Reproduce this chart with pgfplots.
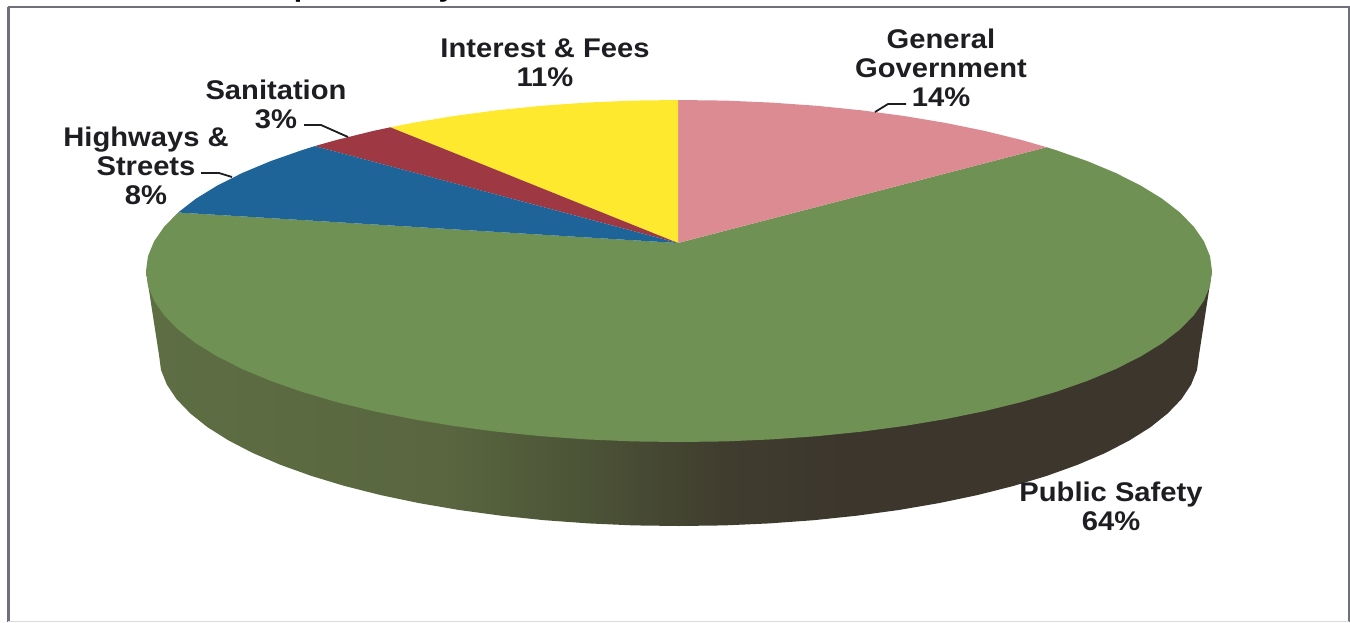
\documentclass[border=0pt]{standalone}
\usepackage{pgfplots}
\pgfplotsset{compat=1.18}
\usepackage{fontspec}
\setmainfont[FakeStretch=1.08,BoldFont={Liberation Sans Bold}]{Liberation Sans}

\definecolor{gov}{HTML}{DC8B93}
\definecolor{safety}{HTML}{6F9153}
\definecolor{streets}{HTML}{1F6499}
\definecolor{sanit}{HTML}{9E3843}
\definecolor{interest}{HTML}{FFE92F}
\definecolor{frame}{HTML}{70707A}
\definecolor{labeltext}{HTML}{1E1E22}

\definecolor{sidea}{HTML}{5E6E43}
\definecolor{sideb}{HTML}{596640}
\definecolor{sidec}{HTML}{4B5236}
\definecolor{sided}{HTML}{403D2F}
\definecolor{sidee}{HTML}{3C362C}
% side wall of the pie, olive on the left to near black on the right
\pgfdeclarehorizontalshading{pieside}{100bp}{
  color(0bp)=(sidea);
  color(25bp)=(sidea);
  color(39bp)=(sideb);
  color(46bp)=(sidec);
  color(52bp)=(sided);
  color(58bp)=(sidee);
  color(75bp)=(sidee);
  color(100bp)=(sidee)}

\tikzset{lbl/.style={font=\fontsize{27}{29}\selectfont\bfseries, text=labeltext, align=center, inner sep=0pt}}

\begin{document}
\begin{tikzpicture}
\useasboundingbox (0,0) rectangle (1350pt,622pt);
\begin{axis}[
  at={(0,0)}, anchor=south west,
  scale only axis,
  width=1350pt, height=622pt,
  xmin=0, xmax=1350,
  ymin=0, ymax=622,
  y dir=reverse,
  hide axis,
  clip=false,
]
% frame
\addplot[draw=frame, line width=3pt] coordinates {(8,622) (8,7)};
\addplot[draw=frame, line width=1.6pt] coordinates {(8,7) (1349,7) (1349,622)};
\addplot[draw=black!14, line width=1pt] coordinates {(8,621) (1349,621)};

% side wall
\addplot[shading=pieside, draw=none] coordinates {
  (146,271) (159,355) (161.0,369.9) (166.9,384.7) (176.7,399.3) (190.4,413.5)
  (207.7,427.3) (228.7,440.5) (253.0,453.1) (280.7,464.9) (311.3,475.9)
  (344.7,486.0) (380.7,495.1) (419,503.1) (459.2,510.0) (501.2,515.7)
  (544.4,520.2) (588.7,523.4) (633.7,525.4) (679,526) (724.3,525.4)
  (769.3,523.4) (813.6,520.2) (856.8,515.7) (898.8,510.0) (939,503.1)
  (977.3,495.1) (1013.3,486.0) (1046.7,475.9) (1077.3,464.9) (1105,453.1)
  (1129.3,440.5) (1150.3,427.3) (1167.6,413.5) (1181.3,399.3) (1191.1,384.7)
  (1197,369.9) (1199,355) (1212,271)
} -- cycle;

% Public Safety 64%
\addplot[fill=safety, draw=none] coordinates {
  (678,243) (1046.6,147.2) (1055.9,150.1) (1087.3,161.1) (1115.6,172.9)
  (1140.6,185.5) (1162.1,198.7) (1179.9,212.5) (1193.8,226.7) (1203.9,241.3)
  (1210.0,256.1) (1212,271) (1210.0,285.9) (1203.9,300.7) (1193.8,315.3)
  (1179.9,329.5) (1162.1,343.3) (1140.6,356.5) (1115.6,369.1) (1087.3,380.9)
  (1055.9,391.9) (1021.6,402.0) (984.7,411.1) (945.5,419.1) (904.2,426.0)
  (861.3,431.7) (816.9,436.2) (771.5,439.4) (725.5,441.4) (679,442)
  (632.5,441.4) (586.5,439.4) (541.1,436.2) (496.7,431.7) (453.8,426.0)
  (412.5,419.1) (373.3,411.1) (336.4,402.0) (302.1,391.9) (270.7,380.9)
  (242.4,369.1) (217.4,356.5) (195.9,343.3) (178.1,329.5) (164.2,315.3)
  (154.1,300.7) (148.0,285.9) (146,271) (148.0,256.1) (154.1,241.3)
  (164.2,226.7) (178.1,212.5)
} -- cycle;

% General Government 14%
\addplot[fill=gov, draw=none] coordinates {
  (678,243) (678,100) (725.5,100.6) (771.5,102.6) (816.9,105.8) (861.3,110.3)
  (904.2,116.0) (945.5,122.9) (984.7,130.9) (1021.6,140.0) (1046.6,147.2)
} -- cycle;

% Interest & Fees 11%
\addplot[fill=interest, draw=none] coordinates {
  (678,243) (678,100) (632.5,100.6) (586.5,102.6) (541.1,105.8) (496.7,110.3)
  (453.8,116.0) (412.5,122.9) (390.3,127.3)
} -- cycle;

% Sanitation 3%
\addplot[fill=sanit, draw=none] coordinates {
  (678,243) (390.3,127.3) (373.3,130.9) (336.4,140.0) (314.8,146.1)
} -- cycle;

% Highways & Streets 8%
\addplot[fill=streets, draw=none] coordinates {
  (678,243) (314.8,146.1) (302.1,150.1) (270.7,161.1) (242.4,172.9)
  (217.4,185.5) (195.9,198.7) (178.1,212.5)
} -- cycle;

% leader lines
\addplot[draw=labeltext, line width=1.8pt] coordinates {(304,125) (321,125) (348,137)};
\addplot[draw=labeltext, line width=1.8pt] coordinates {(201,173) (219,173) (232,177)};
\addplot[draw=labeltext, line width=1.8pt] coordinates {(906,104) (888,104) (875,112)};

% labels
\node[lbl] at (axis cs:545,63) {Interest \& Fees\\11\%};
\node[lbl] at (axis cs:276,104.5) {Sanitation\\3\%};
\node[lbl] at (axis cs:146,166) {Highways \&\\Streets\\8\%};
\node[lbl] at (axis cs:941,67.5) {General\\Government\\14\%};
\node[lbl] at (axis cs:1111,506) {Public Safety\\64\%};

% what is left of the cut-off title
\node[anchor=base, font=\fontsize{28}{30}\selectfont\bfseries, text=black] at (axis cs:303,-4) {p};
\node[anchor=base, font=\fontsize{28}{30}\selectfont\bfseries, text=black] at (axis cs:447,-4) {y};
\end{axis}
\end{tikzpicture}
\end{document}
